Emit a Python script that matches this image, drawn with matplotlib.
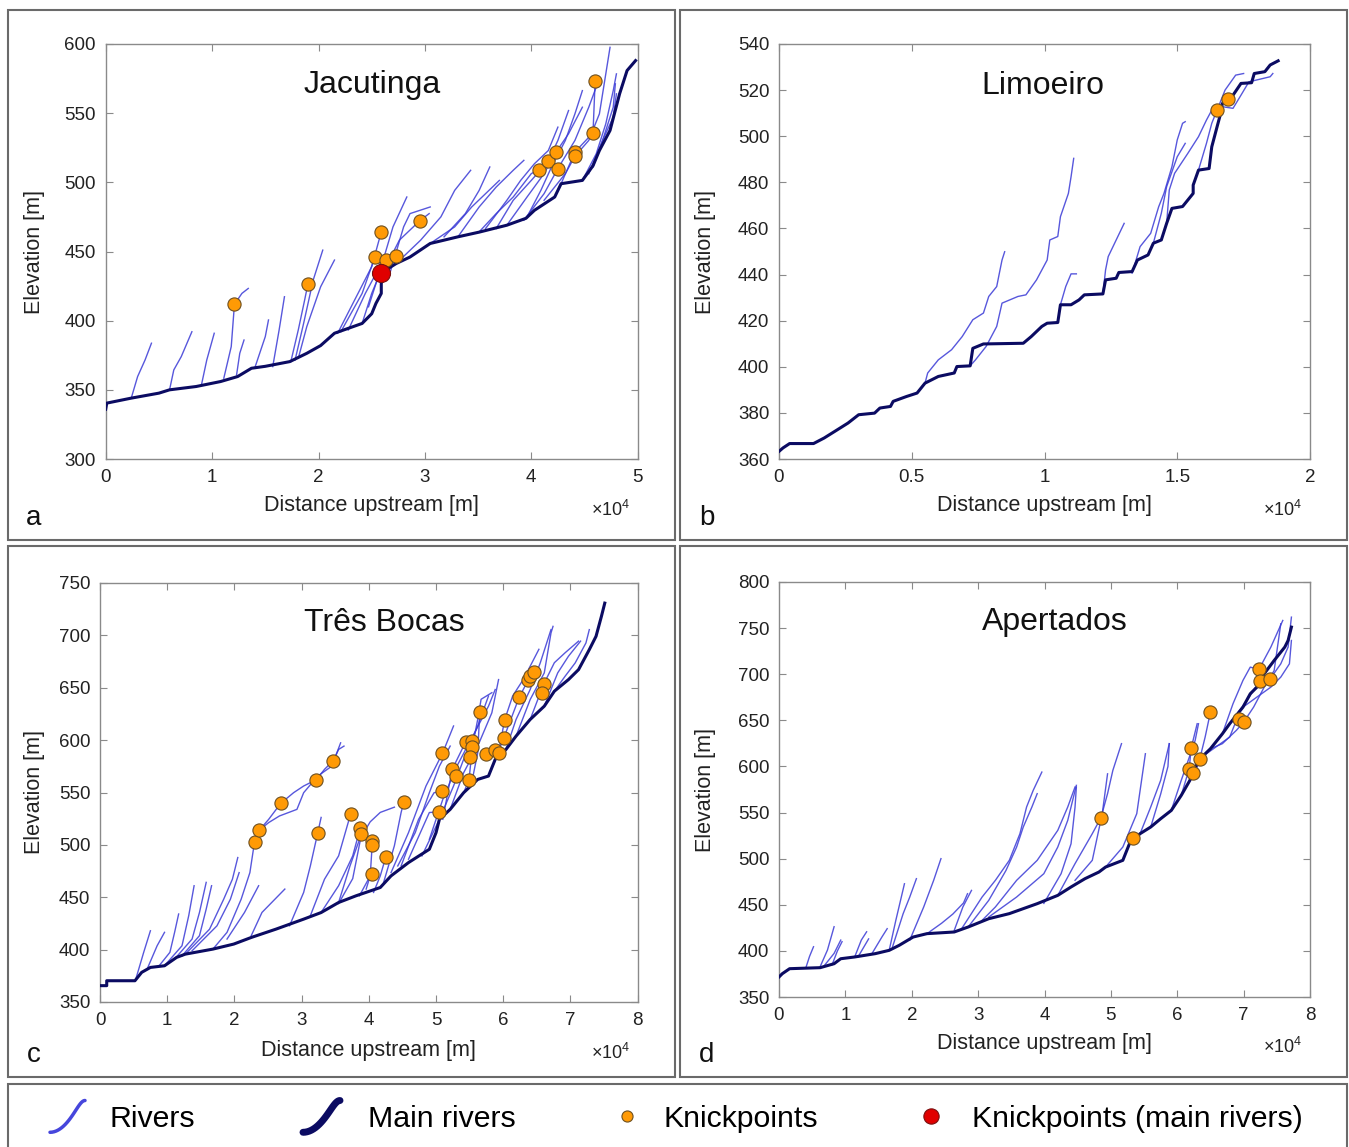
import numpy as np
import matplotlib
matplotlib.use('Agg')
import matplotlib.pyplot as plt
from matplotlib.patches import Rectangle
from matplotlib.lines import Line2D
from matplotlib.legend_handler import HandlerLine2D
from matplotlib.ticker import FuncFormatter

plt.rcParams['font.family'] = ['Liberation Sans', 'DejaVu Sans']
plt.rcParams['mathtext.fontset'] = 'custom'
plt.rcParams['mathtext.rm'] = 'Liberation Sans'
plt.rcParams['mathtext.it'] = 'Liberation Sans:italic'

# ---------------- Panel a : Jacutinga  (x in 10^4 m, y in m) ----------------
jac_main_x = [0.00, 0.01, 0.24, 0.50, 0.60, 0.85, 1.08, 1.24, 1.37, 1.50, 1.73, 1.89, 2.02, 2.15, 2.30,
              2.41, 2.50, 2.54, 2.59, 2.59, 2.63, 2.73, 2.86, 3.05, 3.31, 3.51, 3.77, 3.95, 4.03, 4.22,
              4.28, 4.48, 4.58, 4.64, 4.74, 4.83, 4.90, 4.98]
jac_main_y = [336.0, 340.4, 344.0, 347.6, 350.0, 352.4, 356.0, 359.6, 365.6, 367.0, 370.4, 376.4, 382.0,
              390.9, 395.0, 398.0, 405.0, 412.5, 419.7, 427.0, 436.5, 441.3, 446.0, 455.8, 460.6, 464.0,
              469.0, 474.0, 479.8, 489.4, 499.0, 501.4, 512.0, 523.0, 537.5, 564.0, 580.8, 588.0]
jac_tribs_x = [
    [0.24, 0.30, 0.37, 0.43], [0.60, 0.64, 0.71, 0.81], [0.90, 0.95, 1.02],
    [1.11, 1.18, 1.21, 1.28, 1.34], [1.23, 1.26, 1.30], [1.40, 1.50, 1.53], [1.57, 1.63, 1.68],
    [1.74, 1.81, 1.87, 1.90], [1.78, 1.86, 1.95, 2.04], [1.81, 1.89, 2.02, 2.15],
    [2.18, 2.34, 2.50, 2.59], [2.21, 2.41, 2.53], [2.41, 2.50, 2.63, 2.73], [2.47, 2.57, 2.70, 2.83],
    [2.60, 2.76, 2.95, 3.04], [2.73, 2.96, 3.15, 3.28, 3.43], [3.05, 3.28, 3.44, 3.57, 3.70],
    [3.31, 3.51, 3.67, 3.83, 3.93], [3.51, 3.67, 3.83, 4.00, 4.07], [3.67, 3.83, 4.00, 4.16, 4.25, 4.35],
    [3.77, 3.96, 4.12, 4.23, 4.35, 4.48], [3.93, 4.12, 4.25, 4.41, 4.54, 4.61],
    [4.12, 4.32, 4.41, 4.54, 4.64, 4.74], [4.28, 4.41, 4.58, 4.60], [4.48, 4.61, 4.70, 4.77, 4.80],
    [4.54, 4.67, 4.77, 4.79],
    [2.28, 2.44, 2.54, 2.59], [2.67, 2.80, 2.86, 3.05], [3.18, 3.38, 3.51, 3.61],
    [3.57, 3.77, 3.90, 4.03, 4.16, 4.25], [3.96, 4.09, 4.19, 4.32, 4.41, 4.48], [4.58, 4.67, 4.77, 4.80]]
jac_tribs_y = [
    [344.0, 359.6, 371.6, 383.7], [350.0, 364.4, 374.0, 392.0], [353.6, 371.6, 390.9],
    [358.4, 381.3, 411.8, 419.7, 423.3], [360.8, 376.4, 386.0], [365.6, 388.5, 400.5], [366.8, 393.3, 417.3],
    [370.4, 393.3, 415.0, 426.4], [371.6, 398.0, 429.3, 451.0], [372.8, 395.7, 424.5, 443.8],
    [390.9, 415.0, 439.0, 464.2], [392.0, 419.7, 446.0], [398.0, 419.7, 443.8, 446.6], [410.0, 434.0, 467.8, 489.4],
    [434.0, 458.2, 472.1, 477.4], [441.3, 458.2, 475.0, 494.2, 508.7], [455.8, 467.8, 482.2, 491.8, 501.4],
    [460.6, 482.2, 496.6, 508.7, 515.9], [464.2, 477.4, 489.4, 506.3, 509.1], [466.6, 487.0, 501.4, 515.4, 530.3, 551.9],
    [469.0, 489.4, 506.3, 521.6, 535.1, 554.3], [472.6, 491.8, 510.0, 530.3, 554.3, 568.8],
    [487.0, 506.3, 518.8, 530.3, 549.5, 597.6], [499.0, 521.9, 535.8, 573.3], [501.4, 520.6, 542.3, 566.3, 578.4],
    [506.2, 530.3, 554.3, 571.2],
    [393.3, 419.7, 434.0, 443.8], [434.0, 467.8, 477.4, 482.2], [460.6, 477.4, 494.2, 511.1],
    [466.6, 487.0, 501.4, 513.5, 523.0, 539.9], [475.0, 494.2, 511.1, 530.3, 549.5, 566.3], [511.1, 530.3, 547.1, 564.0]]
jac_knick_x = [1.21, 1.90, 2.53, 2.59, 2.63, 2.73, 2.95, 4.07, 4.16, 4.23, 4.25, 4.41, 4.41, 4.58, 4.60]
jac_knick_y = [411.8, 426.4, 446.0, 464.2, 443.8, 446.6, 472.1, 509.1, 515.4, 521.6, 510.0, 521.9, 518.8, 535.8, 573.3]
jac_main_knick_x = [2.59]
jac_main_knick_y = [434.5]

# ---------------- Panel b : Limoeiro ----------------
lim_main_x = [0.00, 0.015, 0.04, 0.13, 0.17, 0.22, 0.26, 0.30, 0.36, 0.38, 0.42, 0.43, 0.48, 0.52, 0.55,
              0.60, 0.66, 0.67, 0.72, 0.73, 0.77, 0.92, 0.95, 0.99, 1.01, 1.05, 1.06, 1.10, 1.13, 1.15,
              1.22, 1.23, 1.27, 1.28, 1.33, 1.35, 1.39, 1.41, 1.44, 1.46, 1.48, 1.52, 1.56, 1.56, 1.58,
              1.62, 1.63, 1.65, 1.66, 1.67, 1.71, 1.74, 1.78, 1.79, 1.83, 1.85, 1.88]
lim_main_y = [363.3, 364.8, 366.7, 366.7, 369.1, 372.7, 375.6, 379.2, 379.9, 382.1, 382.8, 385.0, 387.1,
              388.6, 392.9, 395.8, 397.3, 400.1, 400.4, 408.0, 409.9, 410.2, 413.1, 417.5, 418.9, 419.2,
              426.9, 426.9, 429.0, 431.2, 431.6, 437.7, 438.4, 440.9, 441.3, 446.3, 448.5, 453.6, 455.0,
              462.2, 468.7, 469.5, 475.2, 478.8, 485.3, 486.0, 495.4, 504.1, 508.4, 514.2, 517.8, 522.9,
              523.2, 527.2, 528.0, 530.9, 532.7]
lim_tribs_x = [
    [0.55, 0.56, 0.60, 0.65, 0.69, 0.73, 0.77, 0.79, 0.82, 0.83, 0.84, 0.85],
    [0.72, 0.74, 0.78, 0.82, 0.84, 0.90, 0.93, 0.97, 1.01, 1.02, 1.05, 1.06, 1.09, 1.10, 1.11],
    [1.06, 1.08, 1.10, 1.12], [1.22, 1.23, 1.24, 1.27, 1.30],
    [1.33, 1.36, 1.40, 1.43, 1.45, 1.48, 1.50, 1.52, 1.53], [1.41, 1.44, 1.46, 1.50, 1.53],
    [1.46, 1.47, 1.49, 1.54, 1.58, 1.61, 1.63, 1.65], [1.58, 1.61, 1.63, 1.66, 1.68, 1.72, 1.75],
    [1.67, 1.71, 1.74, 1.77, 1.85, 1.86]]
lim_tribs_y = [
    [392.9, 397.3, 403.0, 407.4, 413.1, 420.4, 423.3, 430.5, 434.8, 440.6, 446.3, 449.9],
    [400.4, 403.0, 408.8, 417.5, 427.6, 430.5, 431.2, 437.7, 446.3, 455.0, 456.5, 465.1, 475.2, 482.4, 490.4],
    [426.9, 434.8, 440.3, 440.3], [431.6, 442.0, 447.8, 455.0, 462.2],
    [440.6, 452.1, 457.9, 469.4, 475.2, 486.8, 498.4, 505.6, 506.3], [453.6, 466.6, 478.1, 491.1, 496.9],
    [462.2, 476.7, 483.9, 492.6, 499.8, 507.0, 511.3, 512.0], [485.3, 496.9, 505.6, 514.2, 520.0, 526.5, 527.2],
    [512.8, 512.1, 517.8, 523.6, 525.8, 527.2]]
lim_knick_x = [1.65, 1.69]
lim_knick_y = [511.3, 516.1]

# ---------------- Panel c : Tres Bocas ----------------
tre_main_x = [0.00, 0.10, 0.10, 0.52, 0.62, 0.75, 0.96, 1.14, 1.27, 1.68, 1.99, 2.25, 2.62, 3.03, 3.29,
              3.55, 3.81, 4.17, 4.33, 4.59, 4.90, 5.00, 5.05, 5.21, 5.41, 5.62, 5.78, 5.88, 6.04, 6.19,
              6.40, 6.61, 6.76, 6.97, 7.12, 7.28, 7.38, 7.46, 7.51]
tre_main_y = [365.6, 365.6, 370.3, 370.3, 378.3, 383.0, 384.6, 392.6, 395.7, 400.5, 405.3, 411.6, 419.6,
              429.1, 435.4, 445.0, 451.4, 459.3, 470.4, 483.1, 495.8, 511.7, 524.4, 533.9, 549.8, 562.5,
              565.7, 581.6, 591.1, 603.8, 619.7, 632.4, 646.7, 657.8, 667.3, 686.4, 699.1, 718.1, 730.8]
tre_tribs_x = [
    [0.54, 0.65, 0.75], [0.88, 1.04, 1.11, 1.17], [0.96, 1.22, 1.32, 1.40], [1.11, 1.37, 1.48, 1.58],
    [1.22, 1.48, 1.58, 1.66], [1.27, 1.63, 1.84, 1.97, 2.05], [1.37, 1.74, 1.94, 2.07],
    [1.68, 1.89, 2.10, 2.23, 2.30],
    [2.30, 2.37, 2.51, 2.69, 2.88, 3.03, 3.22, 3.34, 3.47, 3.55, 3.63],
    [2.37, 2.51, 2.67, 2.93, 3.03, 3.24, 3.45, 3.58],
    [2.82, 3.03, 3.13, 3.24, 3.29], [2.25, 2.41, 2.75], [3.13, 3.34, 3.55, 3.73], [3.29, 3.55, 3.76, 3.87],
    [3.55, 3.76, 3.89], [3.86, 4.02, 4.05], [4.07, 4.17, 4.25], [3.96, 4.02, 4.04], [4.22, 4.38, 4.48, 4.52],
    [4.33, 4.59, 4.85, 5.10, 5.26], [4.48, 4.74, 4.97, 5.09], [4.59, 4.90, 5.05],
    [4.90, 5.10, 5.31, 5.52, 5.78, 5.88], [5.10, 5.24, 5.41, 5.53], [5.41, 5.49, 5.54, 5.62, 5.67, 5.83],
    [5.52, 5.62, 5.65], [5.78, 5.93, 6.02, 6.14, 6.30, 6.53], [5.88, 6.01, 6.24, 6.37, 6.45],
    [6.19, 6.40, 6.61, 6.71, 6.74], [6.40, 6.60, 6.76, 6.92, 7.12], [6.61, 6.81, 6.97, 7.15],
    [4.43, 4.69, 4.90, 5.05, 5.21], [4.79, 5.05, 5.26, 5.41, 5.62, 5.78], [5.21, 5.41, 5.62, 5.83, 5.93],
    [6.04, 6.19, 6.40, 6.55, 6.71], [6.76, 6.92, 7.07, 7.23, 7.28], [0.70, 0.85, 0.96], [1.89, 2.15, 2.36],
    [3.55, 3.72, 3.86, 4.02, 4.17, 4.38]]
tre_tribs_y = [
    [373.5, 397.4, 418.0], [384.6, 397.4, 416.5, 434.0], [384.6, 403.7, 432.4, 461.0], [391.0, 410.1, 435.5, 464.2],
    [394.0, 413.3, 438.7, 461.0], [395.7, 419.5, 448.1, 467.2, 487.9], [398.9, 422.7, 448.1, 473.5],
    [400.5, 416.5, 448.1, 473.5, 503.2],
    [503.2, 514.0, 524.4, 539.7, 549.8, 556.2, 562.3, 572.1, 580.4, 591.1, 594.3],
    [514.0, 521.3, 527.6, 533.9, 549.8, 565.7, 575.2, 597.4],
    [422.8, 454.6, 480.0, 511.6, 526.2], [413.3, 435.5, 457.8], [432.4, 467.2, 489.5, 529.7], [435.5, 461.0, 489.5, 515.7],
    [444.0, 467.8, 510.0], [451.4, 470.4, 500.1], [454.6, 470.4, 488.0], [457.8, 470.4, 471.8], [464.2, 499.2, 530.9, 541.0],
    [473.5, 511.7, 556.2, 588.0, 613.5], [479.9, 524.4, 549.8, 551.2], [486.3, 530.9, 531.5],
    [505.3, 543.4, 575.2, 600.6, 632.4, 648.3], [524.4, 572.1, 594.3, 599.2], [549.8, 561.9, 593.5, 619.9, 639.0, 645.3],
    [556.2, 588.0, 626.8], [565.7, 588.1, 619.3, 642.2, 658.1, 686.7], [581.6, 602.4, 641.5, 657.0, 667.5],
    [603.8, 638.7, 664.2, 702.3, 708.6], [619.7, 653.2, 673.9, 683.4, 694.5], [632.4, 664.2, 680.1, 694.5],
    [479.9, 511.7, 549.8, 575.2, 594.3], [489.5, 524.4, 556.2, 581.6, 613.5, 642.1], [533.9, 568.8, 594.3, 626.1, 657.8],
    [591.1, 619.7, 648.3, 673.7, 705.5], [646.7, 661.0, 673.7, 692.8, 705.5], [381.3, 403.7, 416.5], [410.1, 435.5, 461.0],
    [445.0, 480.0, 505.0, 522.0, 531.0, 536.0]]
tre_knick_x = [2.30, 2.37, 2.69, 3.22, 3.47, 3.24, 3.73, 3.87, 3.89, 4.05, 4.05, 4.25, 4.04, 4.52, 5.05, 5.09,
               5.09, 5.24, 5.30, 5.44, 5.53, 5.54, 5.50, 5.49, 5.65, 5.74, 5.88, 5.93, 6.01, 6.02, 6.24, 6.37,
               6.40, 6.46, 6.60, 6.58]
tre_knick_y = [503.2, 514.0, 539.7, 562.3, 580.4, 511.6, 529.7, 515.7, 510.0, 503.6, 500.1, 488.0, 471.8, 541.0,
               531.5, 551.2, 587.8, 572.3, 565.3, 598.3, 599.2, 593.5, 583.6, 561.9, 626.8, 586.8, 590.6, 588.1,
               602.4, 619.3, 641.5, 657.0, 661.2, 665.0, 653.2, 645.3]

# ---------------- Panel d : Apertados ----------------
ape_main_x = [0.00, 0.05, 0.16, 0.62, 0.83, 0.93, 1.14, 1.45, 1.66, 1.81, 2.02, 2.23, 2.64, 2.85, 3.16,
              3.47, 3.89, 4.20, 4.40, 4.61, 4.82, 4.92, 5.18, 5.28, 5.44, 5.60, 5.75, 5.91, 6.06, 6.19,
              6.27, 6.37, 6.50, 6.68, 6.79, 6.99, 7.10, 7.20, 7.31, 7.46, 7.62, 7.67, 7.72]
ape_main_y = [371.7, 375.3, 380.7, 381.8, 386.1, 391.5, 393.4, 397.0, 400.6, 406.0, 415.0, 418.7, 420.5,
              425.9, 434.9, 440.4, 451.2, 460.2, 469.3, 478.3, 485.5, 490.9, 498.2, 516.2, 527.1, 534.3,
              543.3, 552.3, 568.6, 584.9, 599.3, 610.2, 619.2, 635.4, 646.3, 664.3, 678.8, 686.0, 700.5,
              714.9, 729.4, 736.6, 751.1]
ape_tribs_x = [
    [0.41, 0.46, 0.52], [0.62, 0.73, 0.83], [0.67, 0.83, 0.93], [1.14, 1.24, 1.32], [1.19, 1.35],
    [1.40, 1.55, 1.63], [1.66, 1.76, 1.89], [1.71, 1.87, 1.97, 2.07], [1.97, 2.18, 2.33, 2.44],
    [2.64, 2.77, 2.90], [2.75, 3.06, 3.26, 3.47, 3.63, 3.73, 3.83, 3.96],
    [2.85, 3.16, 3.42, 3.58, 3.68, 3.81, 3.89], [3.06, 3.26, 3.58, 3.89, 4.20, 4.35, 4.46],
    [3.16, 3.58, 3.99, 4.20, 4.35, 4.48], [4.20, 4.46, 4.72, 4.85, 4.95, 5.03, 5.16],
    [4.46, 4.72, 4.87, 4.95], [4.92, 5.18, 5.39, 5.52], [5.28, 5.33], [5.44, 5.60, 5.75, 5.88],
    [6.06, 6.18, 6.21, 6.30], [6.27, 6.34, 6.42, 6.50], [6.37, 6.58, 6.79, 6.89, 6.93],
    [6.50, 6.68, 6.89, 7.00, 7.15, 7.31, 7.46, 7.56], [6.68, 6.84, 6.99, 7.10, 7.23, 7.41, 7.59],
    [6.79, 7.05, 7.24, 7.40, 7.56, 7.67, 7.72], [6.99, 7.20, 7.41, 7.56, 7.69, 7.72],
    [0.80, 0.88, 0.95], [3.99, 4.25, 4.40, 4.46, 4.48], [5.60, 5.75, 5.86, 5.88],
    [5.91, 6.06, 6.27, 6.32], [2.23, 2.45, 2.62, 2.78, 2.84]]
ape_tribs_y = [
    [382.9, 394.0, 404.5], [382.9, 400.9, 426.2], [382.9, 397.3, 411.7], [393.4, 411.7, 420.7], [393.4, 413.0],
    [397.0, 415.0, 424.1], [400.6, 433.1, 472.8], [404.2, 440.3, 458.4, 478.3], [411.7, 447.6, 476.5, 500.0],
    [422.2, 447.6, 465.6], [423.9, 458.4, 476.5, 498.2, 527.1, 556.0, 574.1, 593.9],
    [425.9, 454.8, 487.3, 512.6, 534.3, 556.0, 570.5], [433.1, 447.6, 476.5, 498.2, 530.7, 556.0, 577.7],
    [436.7, 458.4, 483.7, 512.6, 541.5, 579.5], [460.2, 494.6, 527.1, 544.4, 570.5, 595.8, 624.7],
    [476.5, 498.2, 548.8, 592.0], [490.9, 512.6, 548.8, 613.8], [516.2, 522.4], [527.1, 556.0, 584.9, 624.7],
    [568.6, 597.5, 620.0, 646.3], [592.8, 608.4, 631.8, 658.9], [610.2, 621.0, 631.8, 649.9, 651.7],
    [619.2, 624.7, 639.1, 648.0, 664.3, 686.0, 704.0, 754.7], [635.4, 668.0, 693.3, 707.7, 705.2, 729.4, 758.3],
    [646.3, 671.6, 692.5, 695.0, 711.3, 729.4, 761.9], [664.3, 675.2, 686.0, 696.9, 711.3, 736.6],
    [385.0, 400.0, 410.0], [451.5, 483.7, 516.2, 555.9, 577.6], [534.3, 570.0, 600.0, 624.7],
    [552.3, 584.9, 628.3, 646.3], [418.7, 430.0, 440.0, 452.0, 462.0]]
ape_knick_x = [4.85, 5.33, 6.21, 6.34, 6.18, 6.24, 6.50, 6.93, 7.00, 7.23, 7.24, 7.40]
ape_knick_y = [544.4, 522.4, 620.0, 608.4, 597.5, 592.8, 658.9, 651.7, 648.0, 705.2, 692.5, 695.0]

titles = ['Jacutinga', 'Limoeiro', 'Três Bocas', 'Apertados']
letters = ['a', 'b', 'c', 'd']
x_ticks = [[0, 1, 2, 3, 4, 5], [0, 0.5, 1, 1.5, 2], [0, 1, 2, 3, 4, 5, 6, 7, 8], [0, 1, 2, 3, 4, 5, 6, 7, 8]]
y_ticks = [[300, 350, 400, 450, 500, 550, 600], [360, 380, 400, 420, 440, 460, 480, 500, 520, 540],
           [350, 400, 450, 500, 550, 600, 650, 700, 750], [350, 400, 450, 500, 550, 600, 650, 700, 750, 800]]
legend_labels = ['Rivers', 'Main rivers', 'Knickpoints', 'Knickpoints (main rivers)']

TRIB_C = '#3a3ad6'
MAIN_C = '#0b0b62'
KNICK_C = '#ff9a05'
KNICK_EC = '#6e5020'
RED_C = '#e00000'
FRAME_C = '#6a6a6a'

W, H = 1349, 1147
fig = plt.figure(figsize=(W / 100, H / 100), dpi=100)


def fx(p):
    return p / W


def fy(p):
    return 1 - p / H


# axes boxes in pixels: (left, top, right, bottom)
boxes = [(105.7, 44, 637.7, 459), (779, 44, 1310, 459), (100, 583, 637.7, 1002), (779, 582, 1310, 997)]
frames = [(8, 10, 675, 540), (680, 10, 1347, 540), (8, 546, 675, 1077), (680, 546, 1347, 1077)]
title_pos = [(0.50, 0.90), (0.497, 0.90), (0.528, 0.905), (0.52, 0.903)]
ylabel_x = [-0.114, -0.119, -0.102, -0.119]
xlabel_y = [-0.087, -0.087, -0.091, -0.087]
letter_pos = [(34, 518), (707, 518), (34, 1055), (707, 1055)]
offset_pos = [(611, 510), (1283, 510), (611, 1053), (1283, 1047)]

panels = [
    (jac_main_x, jac_main_y, jac_tribs_x, jac_tribs_y, jac_knick_x, jac_knick_y),
    (lim_main_x, lim_main_y, lim_tribs_x, lim_tribs_y, lim_knick_x, lim_knick_y),
    (tre_main_x, tre_main_y, tre_tribs_x, tre_tribs_y, tre_knick_x, tre_knick_y),
    (ape_main_x, ape_main_y, ape_tribs_x, ape_tribs_y, ape_knick_x, ape_knick_y),
]

for i, (mx, my, tx, ty, kx, ky) in enumerate(panels):
    fl, ft, fr, fb = frames[i]
    fig.patches.append(Rectangle((fx(fl), fy(fb)), fx(fr - fl), (fb - ft) / H, transform=fig.transFigure,
                                 fill=False, edgecolor=FRAME_C, lw=1.5, zorder=0))
    l, t, r, b = boxes[i]
    ax = fig.add_axes([fx(l), fy(b), fx(r - l), (b - t) / H])
    for xs, ys in zip(tx, ty):
        ax.plot(xs, ys, color=TRIB_C, lw=1.0, alpha=0.85, zorder=2)
    ax.plot(mx, my, color=MAIN_C, lw=2.2, zorder=3)
    ax.plot(kx, ky, 'o', ms=9.5, mfc=KNICK_C, mec=KNICK_EC, mew=0.8, zorder=5)
    if i == 0:
        ax.plot(jac_main_knick_x, jac_main_knick_y, 'o', ms=13, mfc=RED_C, mec='#7a1010', mew=0.8, zorder=6)
    ax.set_xlim(x_ticks[i][0], x_ticks[i][-1])
    ax.set_ylim(y_ticks[i][0], y_ticks[i][-1])
    ax.set_xticks(x_ticks[i])
    ax.set_yticks(y_ticks[i])
    ax.xaxis.set_major_formatter(FuncFormatter(lambda v, p: '%g' % v))
    ax.tick_params(direction='in', length=5, top=True, right=True, color='#8a8a8a',
                   labelsize=13.5, labelcolor='#222222', pad=7)
    for s in ax.spines.values():
        s.set_color('#8a8a8a')
        s.set_linewidth(1.0)
    ax.text(title_pos[i][0], title_pos[i][1], titles[i], transform=ax.transAxes, ha='center', va='center',
            fontsize=23, color='#111111')
    ax.set_ylabel('Elevation [m]', fontsize=15.5, color='#222222')
    ax.yaxis.set_label_coords(ylabel_x[i], 0.5)
    ax.set_xlabel('Distance upstream [m]', fontsize=15.5, color='#222222')
    ax.xaxis.set_label_coords(0.5, xlabel_y[i])
    fig.text(fx(letter_pos[i][0]), fy(letter_pos[i][1]), letters[i], ha='center', va='center',
             fontsize=20, color='#111111')
    fig.text(fx(offset_pos[i][0]), fy(offset_pos[i][1]), r'$\times10^{4}$', ha='center', va='center',
             fontsize=13, color='#222222')

# legend strip
fig.patches.append(Rectangle((fx(8), fy(1152)), fx(1339), 68 / H, transform=fig.transFigure,
                             fill=False, edgecolor=FRAME_C, lw=1.5, zorder=0))


class WavyHandler(HandlerLine2D):
    def create_artists(self, legend, orig_handle, xdescent, ydescent, width, height, fontsize, trans):
        t = np.linspace(0, 1, 25)
        xs = -xdescent + width * (t + 0.12 * np.sin(np.pi * t))
        ys = -ydescent + height * (0.5 - 0.75 * np.cos(np.pi * t))
        line = Line2D(xs, ys, color=orig_handle.get_color(), lw=orig_handle.get_linewidth(),
                      solid_capstyle='round')
        line.set_transform(trans)
        return [line]


h_riv = Line2D([], [], color='#4646dc', lw=2.5)
h_main = Line2D([], [], color=MAIN_C, lw=5)
h_knick = Line2D([], [], ls='', marker='o', ms=8, mfc=KNICK_C, mec=KNICK_EC, mew=0.8)
h_red = Line2D([], [], ls='', marker='o', ms=11, mfc=RED_C, mec='#7a1010', mew=0.8)

LEG_FS = 21.8
em = LEG_FS * 100 / 72.0  # px per em
# (handle, start px, handle length px, text start px)
legend_items = [(h_riv, 50, 35, 110), (h_main, 303, 37, 368), (h_knick, 612, 30, 663), (h_red, 916, 30, 972)]
for (h, x0, hl, xt), lab in zip(legend_items, legend_labels):
    fig.legend([h], [lab], loc='center left', bbox_to_anchor=(fx(x0), fy(1119)), frameon=False,
               fontsize=LEG_FS, borderpad=0, borderaxespad=0, handlelength=hl / em,
               handletextpad=(xt - x0 - hl) / em,
               handler_map={h_riv: WavyHandler(), h_main: WavyHandler()})

fig.savefig('out.png', dpi=100)
